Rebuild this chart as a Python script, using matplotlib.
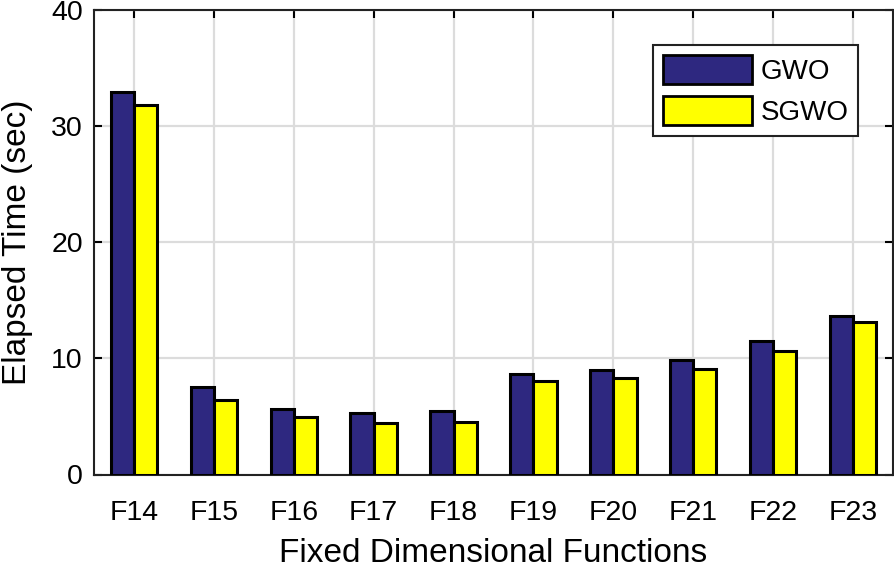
import matplotlib
matplotlib.use("Agg")
import matplotlib.pyplot as plt
import numpy as np

plt.rcParams['font.family'] = ['Liberation Sans', 'DejaVu Sans']

categories = ["F14", "F15", "F16", "F17", "F18", "F19", "F20", "F21", "F22", "F23"]
gwo = [32.9, 7.5, 5.64, 5.27, 5.44, 8.65, 8.97, 9.88, 11.46, 13.67]
sgwo = [31.8, 6.4, 4.92, 4.46, 4.55, 8.02, 8.28, 9.08, 10.6, 13.15]

fig = plt.figure(figsize=(8.95, 5.7), dpi=100)
ax = fig.add_axes([94/895, 1 - 474.5/570, (893 - 94)/895, (474.5 - 9.7)/570])

x = np.arange(1, len(categories) + 1)
w = 0.29
ax.bar(x - w/2, gwo, w, color='#2e2880', edgecolor='black', linewidth=2.2, label='GWO', zorder=3)
ax.bar(x + w/2, sgwo, w, color='#ffff00', edgecolor='black', linewidth=2.2, label='SGWO', zorder=3)

ax.set_xlim(0.5, 10.5)
ax.set_ylim(0, 40)
ax.set_xticks(x)
ax.set_xticklabels(categories)
ax.set_yticks([0, 10, 20, 30, 40])
ax.grid(True, color='#dcdcdc', linewidth=1.6, zorder=0)
ax.set_axisbelow(True)
ax.tick_params(direction='in', top=True, right=True, labelsize=20.5, length=6, width=1.5)
ax.tick_params(axis='x', pad=18)
ax.tick_params(axis='y', pad=8)
for s in ax.spines.values():
    s.set_linewidth(1.5)
    s.set_color('#222222')

ax.set_xlabel('Fixed Dimensional Functions', fontsize=24, labelpad=9)
ax.set_ylabel('Elapsed Time (sec)', fontsize=24, labelpad=13)

leg = ax.legend(loc='upper right', bbox_to_anchor=(858/895, 1 - 45/570), bbox_transform=fig.transFigure,
                fontsize=20, fancybox=False, edgecolor='#222222', framealpha=1,
                handlelength=3.2, handleheight=1.25, borderpad=0.35, labelspacing=0.4,
                handletextpad=0.3, borderaxespad=0)
leg.get_frame().set_linewidth(1.5)
for p in leg.get_patches():
    p.set_linewidth(2)

fig.savefig('out.png', dpi=100)
